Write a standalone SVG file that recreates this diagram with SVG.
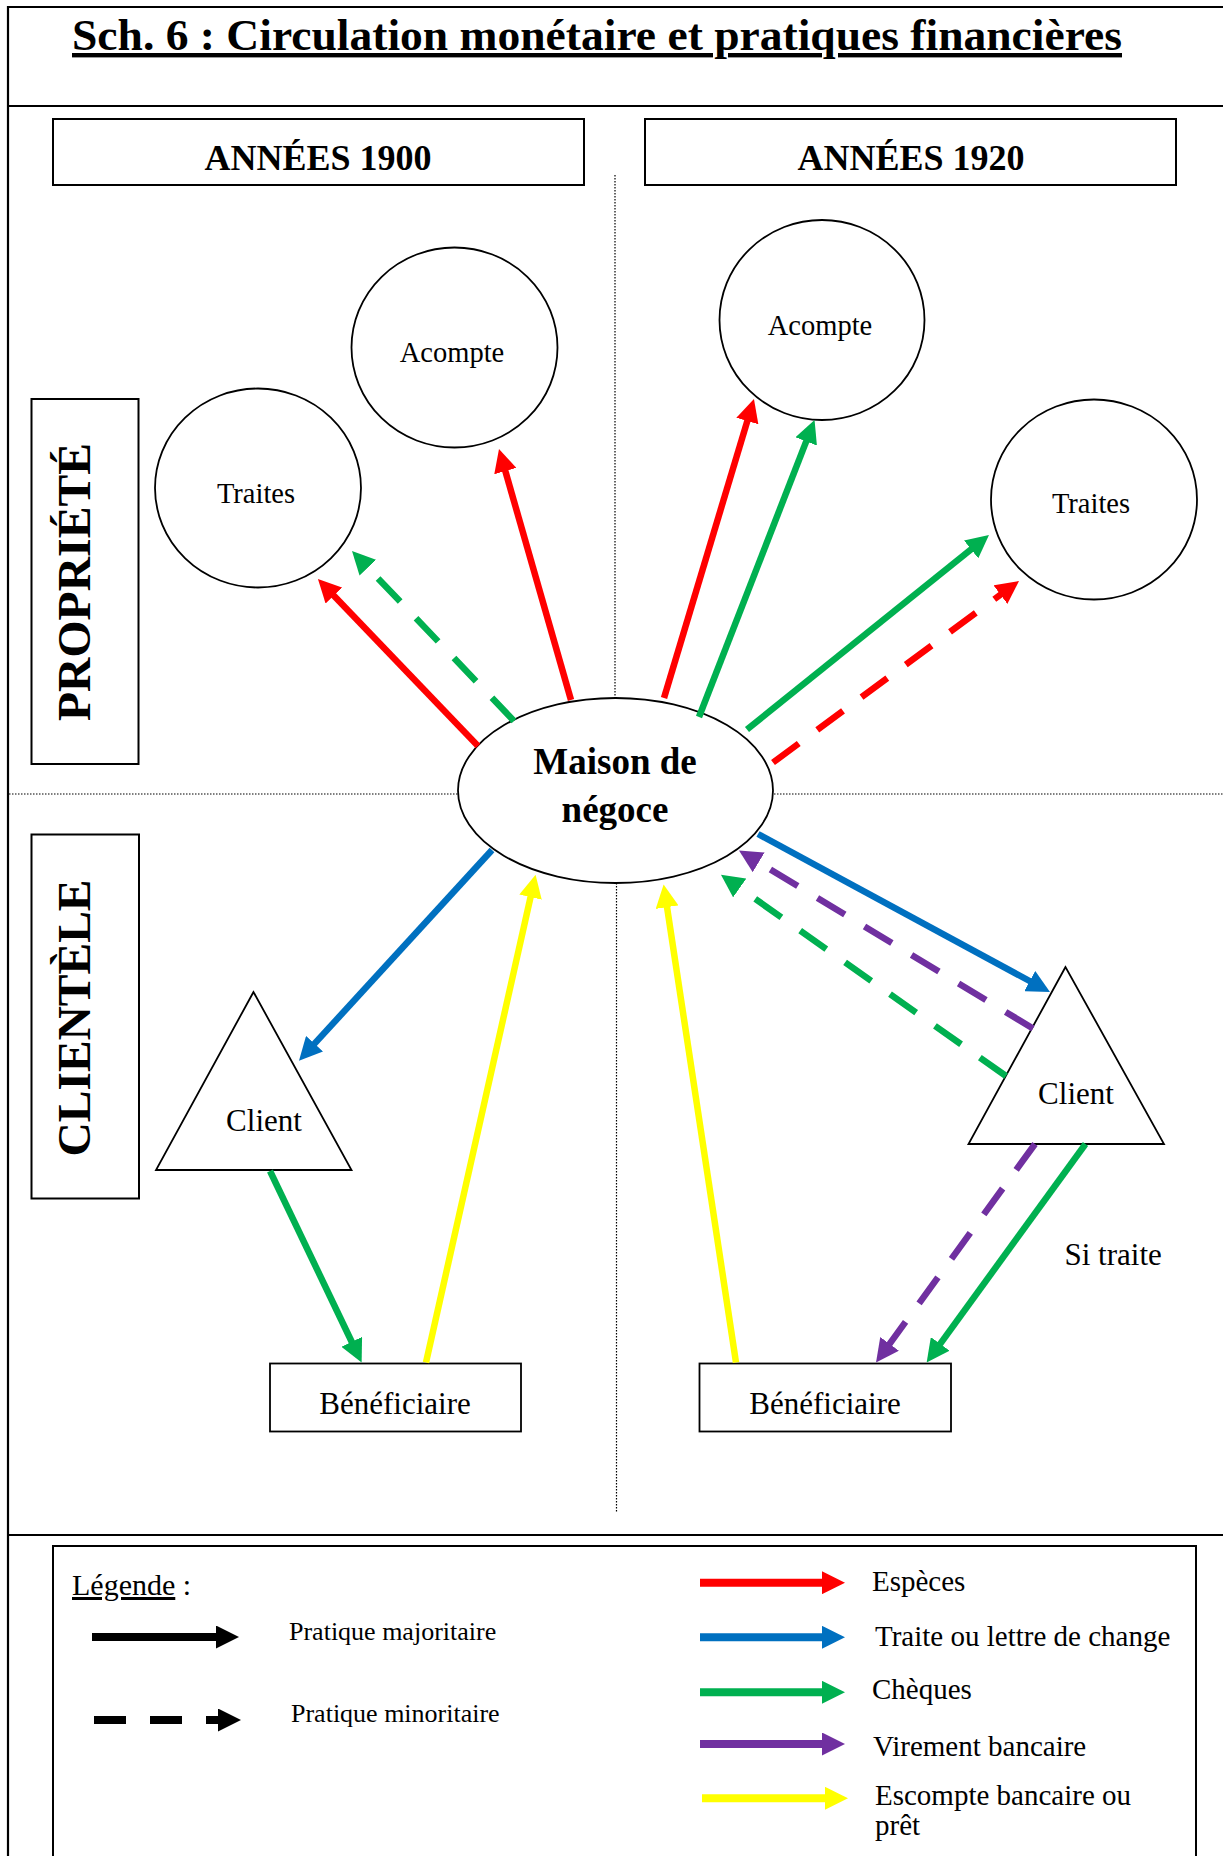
<svg xmlns="http://www.w3.org/2000/svg" width="1223" height="1856" viewBox="0 0 1223 1856">
<style>
.t{font-family:"Liberation Serif","Times New Roman",serif;fill:#000}
.b{font-weight:bold}
.box{fill:#fff;stroke:#000;stroke-width:2}
.node{fill:#fff;stroke:#000;stroke-width:1.8}
.frame{fill:none;stroke:#000;stroke-width:2.2}
.dot{fill:none;stroke:#000;stroke-width:1.2;stroke-dasharray:1.5 1.5}
.a{fill:none;stroke-width:6.5;stroke-linecap:butt}
.l{fill:none;stroke-width:8;stroke-linecap:butt}
.dash{stroke-dasharray:32 23}
.red{stroke:#FF0000}.grn{stroke:#00B050}.blu{stroke:#0070C0}.pur{stroke:#7030A0}.yel{stroke:#FFFF00}.blk{stroke:#000}
</style>
<defs>
<marker id="mR" markerUnits="userSpaceOnUse" markerWidth="23" markerHeight="23" refX="3" refY="11.5" orient="auto"><path d="M0,0 L23,11.5 L0,23 z" fill="#FF0000"/></marker>
<marker id="mG" markerUnits="userSpaceOnUse" markerWidth="23" markerHeight="23" refX="3" refY="11.5" orient="auto"><path d="M0,0 L23,11.5 L0,23 z" fill="#00B050"/></marker>
<marker id="mB" markerUnits="userSpaceOnUse" markerWidth="23" markerHeight="23" refX="3" refY="11.5" orient="auto"><path d="M0,0 L23,11.5 L0,23 z" fill="#0070C0"/></marker>
<marker id="mP" markerUnits="userSpaceOnUse" markerWidth="23" markerHeight="23" refX="3" refY="11.5" orient="auto"><path d="M0,0 L23,11.5 L0,23 z" fill="#7030A0"/></marker>
<marker id="mY" markerUnits="userSpaceOnUse" markerWidth="23" markerHeight="23" refX="3" refY="11.5" orient="auto"><path d="M0,0 L23,11.5 L0,23 z" fill="#FFFF00"/></marker>
<marker id="mK" markerUnits="userSpaceOnUse" markerWidth="23" markerHeight="23" refX="3" refY="11.5" orient="auto"><path d="M0,0 L23,11.5 L0,23 z" fill="#000"/></marker>
</defs>
<rect width="1223" height="1856" fill="#fff"/>

<g id="frame">
<path class="frame" d="M1223,7 H8 V1856 M8,106 H1223 M8,1535 H1223"/>
<text class="t b" x="72" y="50" font-size="44" textLength="1050" lengthAdjust="spacingAndGlyphs" text-decoration="underline">Sch. 6 : Circulation monétaire et pratiques financières</text>
</g>

<g id="separators">
<line class="dot" x1="615" y1="175" x2="615" y2="790"/>
<line class="dot" x1="616.5" y1="790" x2="616.5" y2="1512"/>
<line class="dot" x1="9" y1="794" x2="1223" y2="794"/>
</g>

<g id="header-1900">
<rect class="box" x="53" y="119" width="531" height="66"/>
<text class="t b" x="318" y="170" font-size="36" text-anchor="middle">ANNÉES 1900</text>
</g>
<g id="header-1920">
<rect class="box" x="645" y="119" width="531" height="66"/>
<text class="t b" x="911" y="170" font-size="36" text-anchor="middle">ANNÉES 1920</text>
</g>
<g id="label-propriete">
<rect class="box" x="31.5" y="399" width="107" height="365"/>
<text class="t b" transform="translate(90,582) rotate(-90)" font-size="47" text-anchor="middle" textLength="278" lengthAdjust="spacingAndGlyphs">PROPRIÉTÉ</text>
</g>
<g id="label-clientele">
<rect class="box" x="31.5" y="834.5" width="107.5" height="364"/>
<text class="t b" transform="translate(90,1018) rotate(-90)" font-size="47" text-anchor="middle" textLength="277" lengthAdjust="spacingAndGlyphs">CLIENTÈLE</text>
</g>

<g id="traites-1900">
<ellipse class="node" cx="258" cy="488" rx="103" ry="99.5"/>
<text class="t" x="256" y="503" font-size="28.5" text-anchor="middle">Traites</text>
</g>
<g id="acompte-1900">
<ellipse class="node" cx="454.5" cy="347.5" rx="103" ry="100"/>
<text class="t" x="452" y="362" font-size="28.5" text-anchor="middle">Acompte</text>
</g>
<g id="acompte-1920">
<ellipse class="node" cx="822" cy="320" rx="102.5" ry="100"/>
<text class="t" x="820" y="335" font-size="28.5" text-anchor="middle">Acompte</text>
</g>
<g id="traites-1920">
<ellipse class="node" cx="1094" cy="499.5" rx="103" ry="100"/>
<text class="t" x="1091" y="513" font-size="28.5" text-anchor="middle">Traites</text>
</g>
<g id="maison">
<ellipse class="node" cx="615.5" cy="790.5" rx="157.5" ry="92.5"/>
<text class="t b" x="615" y="774" font-size="37" text-anchor="middle">Maison de</text>
<text class="t b" x="615" y="822" font-size="37" text-anchor="middle">négoce</text>
</g>
<g id="client-1900">
<polygon class="node" points="253.5,992 156,1170 351.5,1170"/>
<text class="t" x="264" y="1130.5" font-size="31" text-anchor="middle">Client</text>
</g>
<g id="client-1920">
<polygon class="node" points="1065.5,967 968.5,1144 1164,1144"/>
<text class="t" x="1076" y="1104" font-size="31" text-anchor="middle">Client</text>
</g>
<g id="beneficiaire-1900">
<rect class="node" x="270" y="1363.5" width="251" height="68"/>
<text class="t" x="395" y="1413.5" font-size="31" text-anchor="middle">Bénéficiaire</text>
</g>
<g id="beneficiaire-1920">
<rect class="node" x="699.5" y="1363.5" width="251.5" height="68"/>
<text class="t" x="825" y="1413.5" font-size="31" text-anchor="middle">Bénéficiaire</text>
</g>
<g id="si-traite">
<text class="t" x="1064.5" y="1264.5" font-size="31">Si traite</text>
</g>

<g id="connectors">
<line class="a red" x1="478" y1="746" x2="331.8" y2="593.4" marker-end="url(#mR)"/>
<line class="a grn dash" x1="514" y1="721" x2="365.8" y2="565.5" marker-end="url(#mG)"/>
<line class="a red" x1="571" y1="700" x2="504.5" y2="468.2" marker-end="url(#mR)"/>
<line class="a red" x1="664" y1="698" x2="748.2" y2="418.1" marker-end="url(#mR)"/>
<line class="a grn" x1="699" y1="717" x2="807.3" y2="438.6" marker-end="url(#mG)"/>
<line class="a grn" x1="747" y1="729.5" x2="973.4" y2="547.5" marker-end="url(#mG)"/>
<line class="a red dash" x1="773" y1="762.5" x2="1002.9" y2="592.9" marker-end="url(#mR)"/>
<line class="a blu" x1="492" y1="850" x2="312.5" y2="1045.9" marker-end="url(#mB)"/>
<line class="a yel" x1="426" y1="1362.5" x2="531.2" y2="894.2" marker-end="url(#mY)"/>
<line class="a grn" x1="270" y1="1171" x2="353" y2="1344.5" marker-end="url(#mG)"/>
<line class="a yel" x1="736" y1="1362.5" x2="666.6" y2="904.2" marker-end="url(#mY)"/>
<line class="a blu" x1="758" y1="834" x2="1032.4" y2="982.5" marker-end="url(#mB)"/>
<line class="a pur dash" x1="1033" y1="1028.5" x2="756.1" y2="860.8" marker-end="url(#mP)"/>
<line class="a grn dash" x1="1006" y1="1076" x2="737.3" y2="886.2" marker-end="url(#mG)"/>
<line class="a pur dash" x1="1035" y1="1144" x2="887.8" y2="1346.3" marker-end="url(#mP)"/>
<line class="a grn" x1="1085.5" y1="1144" x2="938.4" y2="1346.3" marker-end="url(#mG)"/>
</g>

<g id="legend">
<rect class="box" x="53" y="1546" width="1143" height="330"/>
<text class="t" x="72" y="1595" font-size="30"><tspan text-decoration="underline">Légende</tspan> :</text>
<line class="l blk" x1="92" y1="1637" x2="219" y2="1637" marker-end="url(#mK)"/>
<text class="t" x="289" y="1640" font-size="26">Pratique majoritaire</text>
<line class="l blk" x1="94" y1="1720" x2="221" y2="1720" stroke-dasharray="32 24" stroke-width="9" marker-end="url(#mK)"/>
<text class="t" x="291" y="1722" font-size="26">Pratique minoritaire</text>
<line class="l red" x1="700" y1="1582.7" x2="825" y2="1582.7" marker-end="url(#mR)"/>
<text class="t" x="872" y="1590.5" font-size="29">Espèces</text>
<line class="l blu" x1="700" y1="1637.3" x2="825" y2="1637.3" marker-end="url(#mB)"/>
<text class="t" x="875" y="1645.5" font-size="29">Traite ou lettre de change</text>
<line class="l grn" x1="700" y1="1692.3" x2="825" y2="1692.3" marker-end="url(#mG)"/>
<text class="t" x="872" y="1698.5" font-size="29">Chèques</text>
<line class="l pur" x1="700" y1="1744" x2="825" y2="1744" marker-end="url(#mP)"/>
<text class="t" x="873" y="1756" font-size="29">Virement bancaire</text>
<line class="l yel" x1="702" y1="1798.3" x2="828" y2="1798.3" marker-end="url(#mY)"/>
<text class="t" x="875" y="1804.5" font-size="29">Escompte bancaire ou</text>
<text class="t" x="875" y="1835" font-size="29">prêt</text>
</g>
</svg>
